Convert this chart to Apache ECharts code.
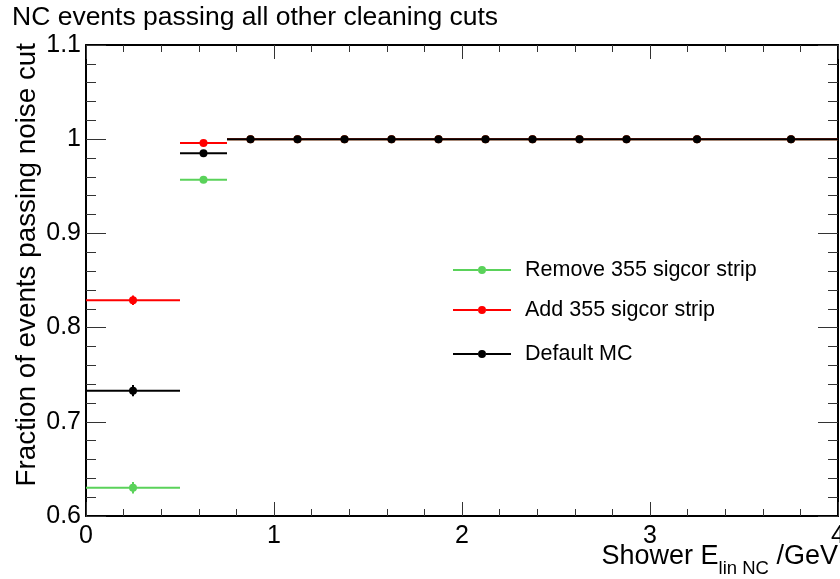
<!DOCTYPE html>
<html>
<head>
<meta charset="utf-8">
<script src="https://cdn.jsdelivr.net/npm/echarts@6/dist/echarts.min.js"></script>
<style>html,body{margin:0;padding:0;background:#fff}#c{width:840px;height:579px}</style>
</head>
<body>
<div id="c"></div>
<script>
// ---- data ----
var binLow  = [0, 0.5, 0.75, 1.0, 1.25, 1.5, 1.75, 2.0, 2.25, 2.5, 2.75, 3.0, 3.5];
var binHigh = [0.5, 0.75, 1.0, 1.25, 1.5, 1.75, 2.0, 2.25, 2.5, 2.75, 3.0, 3.5, 4.0];
var binCenter = [0.25, 0.625, 0.875, 1.125, 1.375, 1.625, 1.875, 2.125, 2.375, 2.625, 2.875, 3.25, 3.75];
var removeVals = [0.630, 0.957, 1, 1, 1, 1, 1, 1, 1, 1, 1, 1, 1];
var removeErrs = [0.006, 0.001, 0, 0, 0, 0, 0, 0, 0, 0, 0, 0, 0];
var addVals    = [0.829, 0.996, 1, 1, 1, 1, 1, 1, 1, 1, 1, 1, 1];
var addErrs    = [0.005, 0.001, 0, 0, 0, 0, 0, 0, 0, 0, 0, 0, 0];
var defVals    = [0.733, 0.985, 1, 1, 1, 1, 1, 1, 1, 1, 1, 1, 1];
var defErrs    = [0.006, 0.001, 0, 0, 0, 0, 0, 0, 0, 0, 0, 0, 0];
var seriesNames = ['Remove 355 sigcor strip', 'Add 355 sigcor strip', 'Default MC'];
var seriesColors = ['#5ad25a', '#ff0000', '#000000'];

var FONT = "'Liberation Sans', Arial, Helvetica, sans-serif";

function build(vals, errs) {
  return vals.map(function (v, i) {
    return [binLow[i], binHigh[i], v, binCenter[i], errs[i]];
  });
}

function makeRender(color) {
  return function (params, api) {
    var y = api.value(2), e = api.value(4), xc = api.value(3);
    var lo = api.coord([api.value(0), y]);
    var hi = api.coord([api.value(1), y]);
    var c = api.coord([xc, y]);
    var t = api.coord([xc, y + e]);
    var b = api.coord([xc, y - e]);
    return {
      type: 'group',
      children: [
        { type: 'line', shape: { x1: lo[0], y1: lo[1], x2: hi[0], y2: hi[1] }, style: { stroke: color, lineWidth: 2 } },
        { type: 'line', shape: { x1: t[0], y1: t[1], x2: b[0], y2: b[1] }, style: { stroke: color, lineWidth: 2 } },
        { type: 'circle', shape: { cx: c[0], cy: c[1], r: 4 }, style: { fill: color } }
      ]
    };
  };
}

var datasets = [build(removeVals, removeErrs), build(addVals, addErrs), build(defVals, defErrs)];

var series = datasets.map(function (d, k) {
  return {
    type: 'custom',
    name: seriesNames[k],
    xAxisIndex: 0, yAxisIndex: 0,
    itemStyle: { color: seriesColors[k] },
    renderItem: makeRender(seriesColors[k]),
    encode: { x: [0, 1, 3], y: 2 },
    data: d,
    z: 2 + k,
    clip: true,
    silent: true
  };
});

var iconPath = 'path://M0,4L25,4L25,6L0,6Z M33,4L58,4L58,6L33,6Z M25,5A4,4 0 1 1 33,5A4,4 0 1 1 25,5Z';
var legendTops = [259, 299, 343];
var legends = seriesNames.map(function (n, k) {
  return {
    left: 453, top: legendTops[k], padding: 0,
    itemWidth: 58, itemHeight: 8,
    data: [{ name: n, icon: iconPath }],
    selectedMode: false,
    itemStyle: { borderWidth: 0 },
    textStyle: { fontFamily: FONT, fontSize: 21.5, color: '#000', padding: [0, 0, 0, 9] }
  };
});

var tickLab = function (v) { return String(+(+v).toFixed(1)); };

var option = {
  animation: false,
  backgroundColor: '#fff',
  grid: { left: 86, right: 2, top: 45, bottom: 63, containLabel: false, outerBoundsMode: 'none' },
  legend: legends,
  xAxis: [{
    type: 'value', min: 0, max: 4, interval: 1, position: 'bottom',
    axisLine: { show: true, onZero: false, lineStyle: { color: '#000', width: 2 } },
    axisTick: { show: true, inside: true, length: 14, lineStyle: { color: '#333', width: 1 } },
    minorTick: { show: true, splitNumber: 5, length: 7, lineStyle: { color: '#333', width: 1 } },
    splitLine: { show: false },
    axisLabel: { fontFamily: FONT, fontSize: 25, color: '#000', margin: 8, formatter: tickLab, hideOverlap: false }
  }, {
    type: 'value', min: 0, max: 4, interval: 1, position: 'top',
    axisLine: { show: true, onZero: false, lineStyle: { color: '#000', width: 2 } },
    axisTick: { show: true, inside: true, length: 14, lineStyle: { color: '#333', width: 1 } },
    minorTick: { show: true, splitNumber: 5, length: 7, lineStyle: { color: '#333', width: 1 } },
    splitLine: { show: false },
    axisLabel: { show: false }
  }],
  yAxis: [{
    type: 'value', min: 0.6, max: 1.1, interval: 0.1, position: 'left',
    axisLine: { show: true, onZero: false, lineStyle: { color: '#000', width: 2 } },
    axisTick: { show: true, inside: true, length: 20, lineStyle: { color: '#333', width: 1 } },
    minorTick: { show: true, splitNumber: 5, length: 10, lineStyle: { color: '#333', width: 1 } },
    splitLine: { show: false },
    axisLabel: { fontFamily: FONT, fontSize: 25, color: '#000', margin: 5, formatter: tickLab }
  }, {
    type: 'value', min: 0.6, max: 1.1, interval: 0.1, position: 'right',
    axisLine: { show: true, onZero: false, lineStyle: { color: '#000', width: 2 } },
    axisTick: { show: true, inside: true, length: 20, lineStyle: { color: '#333', width: 1 } },
    minorTick: { show: true, splitNumber: 5, length: 10, lineStyle: { color: '#333', width: 1 } },
    splitLine: { show: false },
    axisLabel: { show: false }
  }],
  graphic: [
    { type: 'text', left: 12, top: 4, style: { text: 'NC events passing all other cleaning cuts', fontFamily: FONT, fontSize: 26.5, fill: '#000' } },
    { type: 'text', x: 27, y: 43, rotation: Math.PI / 2,
      style: { text: 'Fraction of events passing noise cut', fontFamily: FONT, fontSize: 27.8, fill: '#000', align: 'right', verticalAlign: 'middle' } },
    { type: 'text', x: 838, y: 579,
      style: {
        text: '{a|Shower E}{b|lin NC}{a| /GeV}', align: 'right', verticalAlign: 'bottom', fill: '#000',
        rich: {
          a: { fontFamily: FONT, fontSize: 27, fill: '#000', verticalAlign: 'bottom', padding: [0, 0, 9, 0] },
          b: { fontFamily: FONT, fontSize: 18.5, fill: '#000', verticalAlign: 'bottom', padding: [0, 0, 1, 0] }
        }
      } }
  ],
  series: series
};

var chart = echarts.init(document.getElementById('c'), null, { renderer: 'canvas' });
chart.setOption(option);
</script>
</body>
</html>
